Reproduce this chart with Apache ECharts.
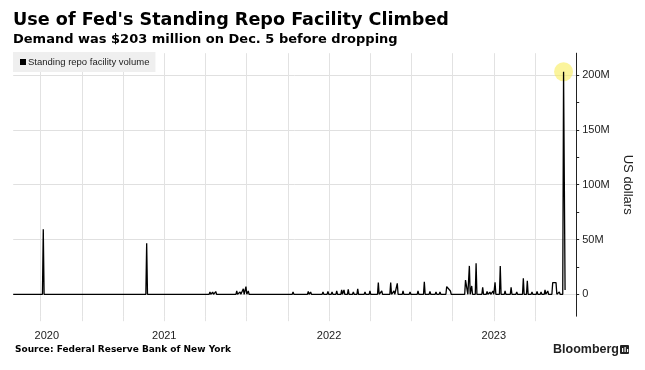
<!DOCTYPE html>
<html>
<head>
<meta charset="utf-8">
<script src="https://cdn.jsdelivr.net/npm/echarts@6/dist/echarts.min.js"></script>
<style>
html,body{margin:0;padding:0;background:#fff;}
#chart{width:645px;height:370px;}
</style>
</head>
<body>
<div id="chart"></div>
<script>
// x values are months counted from the first vertical gridline (quarterly gridlines)
const spikeMonths = [0.19, 7.72, 11.73, 12.33, 12.53, 12.75, 14.28, 14.52, 14.76, 14.95, 15.12,
  16.94, 17.92, 18.38, 18.89, 19.10, 19.49, 19.66, 20.56, 20.92, 21.22, 21.56, 21.92, 22.09,
  22.40, 22.77, 23.09, 23.62, 23.98, 24.59, 24.84, 25.49, 25.73, 25.97, 26.39, 26.90, 27.48,
  27.94, 28.35, 28.79, 29.08, 29.57, 29.70, 29.84, 30.39, 30.94, 31.05, 31.22, 31.39, 31.71,
  32.19, 32.51, 32.72, 32.94, 33.09, 33.47, 33.82, 34.26, 34.67, 35.15, 35.44, 35.78, 36.15,
  36.44, 36.73, 36.93, 37.29, 37.41, 37.53, 37.77, 38.08, 38.19];
const spikeVolumes = [59.4, 46.6, 1.5, 2, 2, 2.5, 3, 2, 5, 7, 3,
  1.5, 1.5, 2, 1.5, 1.5, 2.5, 2, 2, 2.5, 2, 3, 4, 4,
  4.5, 2, 5, 2, 3, 10.6, 3, 10.6, 3, 10, 3, 2, 3,
  11.5, 2.5, 2, 2, 7, 6, 3, 1.5, 13, 13, 25.9, 7.6, 28.3,
  6.4, 2.5, 2, 3, 11, 25.9, 3, 6.4, 2, 14.6, 12.4, 2, 2.5,
  2, 4, 3, 10.6, 10.6, 10.6, 2, 203, 4];
const startMonth = -2, endMonth = 39;
const peakMonth = 38.08, peakVolume = 203;
const gridMonths = [0, 3, 6, 9, 12, 15, 18, 21, 24, 27, 30, 33, 36];
const yearLabelMonths = [0.45, 9, 21, 33];
const yearLabels = ['2020', '2021', '2022', '2023'];
const yTicks = [0, 25, 50, 75, 100, 125, 150, 175, 200];
const yLabels = [0, 50, 100, 150, 200];

const pts = [[startMonth, 0]];
const n = spikeMonths.length;
for (let i = 0; i < n; i++) {
  const m = spikeMonths[i];
  const prevClose = i > 0 && m - spikeMonths[i - 1] < 0.15;
  const nextClose = i < n - 1 && spikeMonths[i + 1] - m < 0.15;
  if (!prevClose) pts.push([m - 0.06, 0]);
  pts.push([m, spikeVolumes[i]]);
  if (!nextClose && i < n - 1) pts.push([m + 0.06, 0]);
}

const chart = echarts.init(document.getElementById('chart'), null, {renderer: 'canvas'});
const fam = '"DejaVu Sans", sans-serif';
chart.setOption({
  animation: false,
  backgroundColor: '#ffffff',
  title: [
    {text: "Use of Fed's Standing Repo Facility Climbed", left: 13, top: 11, padding: 0,
     textStyle: {fontFamily: fam, fontWeight: 'bold', fontSize: 17.6, color: '#000'}},
    {text: 'Demand was $203 million on Dec. 5 before dropping', left: 13, top: 33, padding: 0,
     textStyle: {fontFamily: fam, fontWeight: 'bold', fontSize: 13, color: '#000'}},
    {text: 'Source: Federal Reserve Bank of New York', left: 15, top: 345, padding: 0,
     textStyle: {fontFamily: fam, fontWeight: 'bold', fontSize: 9, color: '#000'}}
  ],
  legend: {
    data: ['Standing repo facility volume'],
    left: 13, top: 52,
    backgroundColor: '#efefef',
    padding: [5, 6, 5, 7],
    icon: 'rect', itemWidth: 6, itemHeight: 6, itemGap: 0,
    textStyle: {fontFamily: '"Liberation Sans", sans-serif', fontSize: 9.5, color: '#222', padding: [0, 0, 0, -3]},
    selectedMode: false
  },
  grid: {left: 13.2, right: 68.8, top: 53.2, bottom: 53.8, containLabel: false},
  xAxis: {
    type: 'value', min: startMonth, max: endMonth,
    axisLine: {show: false, onZero: false},
    axisTick: {show: true, customValues: gridMonths, length: 5, lineStyle: {color: '#e2e2e2'}},
    splitLine: {show: true, lineStyle: {color: '#e2e2e2', width: 1}},
    axisLabel: {customValues: yearLabelMonths, margin: 14,
      fontFamily: '"Liberation Sans", sans-serif', fontSize: 11, color: '#222',
      formatter: function (v) {
        const i = yearLabelMonths.indexOf(v);
        return i >= 0 ? yearLabels[i] : '';
      }}
  },
  yAxis: {
    type: 'value', position: 'right', min: -20, max: 220,
    name: 'US dollars', nameLocation: 'middle', nameRotate: -90, nameGap: 44,
    nameTextStyle: {fontFamily: '"Liberation Sans", sans-serif', fontSize: 13, color: '#222'},
    axisLine: {show: true, onZero: false, lineStyle: {color: '#222', width: 1}},
    axisTick: {show: true, customValues: yTicks, length: 3, inside: false, lineStyle: {color: '#222'}},
    splitLine: {show: true, lineStyle: {color: ['#e0e0e0', 'rgba(0,0,0,0)'], width: 1}},
    axisLabel: {customValues: yLabels, margin: 6,
      fontFamily: '"Liberation Sans", sans-serif', fontSize: 11, color: '#222',
      formatter: function (v) { return v === 0 ? '0' : v + 'M'; }}
  },
  series: [
    {
      type: 'scatter', data: [[peakMonth, peakVolume]], symbolSize: 19, z: 1,
      itemStyle: {color: 'rgba(248,236,90,0.75)'}, silent: true
    },
    {
      name: 'Standing repo facility volume', type: 'line', data: pts, z: 2,
      showSymbol: false, symbol: 'none',
      lineStyle: {color: '#000', width: 1.3},
      itemStyle: {color: '#000'}
    }
  ],
  graphic: [
    {type: 'text', left: 553, top: 343,
     style: {text: 'Bloomberg', fontFamily: '"Liberation Sans", sans-serif', fontSize: 12.5, fontWeight: 'bold', fill: '#222'}},
    {type: 'rect', left: 620, top: 345, shape: {width: 9, height: 9, r: 1}, style: {fill: '#222'}},
    {type: 'rect', left: 622, top: 348, shape: {width: 1.2, height: 4}, style: {fill: '#fff'}},
    {type: 'rect', left: 624.5, top: 347, shape: {width: 1.2, height: 5}, style: {fill: '#fff'}},
    {type: 'rect', left: 627, top: 349, shape: {width: 1.2, height: 3}, style: {fill: '#fff'}}
  ]
});
</script>
</body>
</html>
